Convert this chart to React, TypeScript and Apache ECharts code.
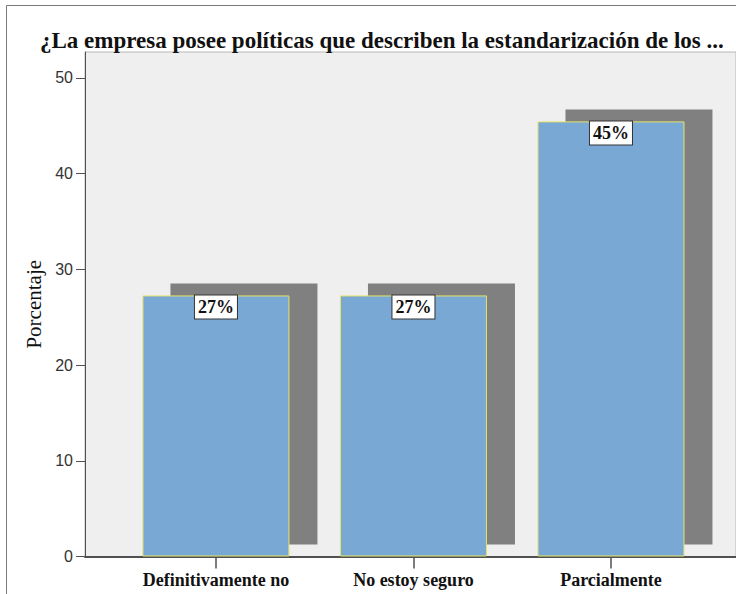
import React, { useEffect, useRef } from "react";
import * as echarts from "echarts";

const titleText = "¿La empresa posee políticas que describen la estandarización de los ...";
const categories = ["Definitivamente no", "No estoy seguro", "Parcialmente"];
const percentages = [27.27, 27.27, 45.45];
const labels = ["27%", "27%", "45%"];
const yTicks = [0, 10, 20, 30, 40, 50];
const yAxisName = "Porcentaje";

export default function App() {
  const ref = useRef<HTMLDivElement>(null);
  useEffect(() => {
    if (!ref.current) return;
    const chart = echarts.init(ref.current, null, { renderer: "svg" });
    const points = percentages.map((v, i) => [i, v]);
    const barW = 147;
    const option: any = {
      animation: false,
      backgroundColor: "#ffffff",
      title: {
        text: titleText,
        left: 35,
        top: 24,
        textStyle: {
          fontFamily: "Liberation Serif",
          fontWeight: "bold",
          fontSize: 23,
          color: "#111",
        },
      },
      graphic: [
        {
          type: "rect",
          shape: { x: 6.5, y: 5.5, width: 800, height: 700 },
          style: { fill: "none", stroke: "#7a7a7a", lineWidth: 1 },
          silent: true,
        },
      ],
      grid: {
        left: 85,
        top: 52,
        right: 0,
        bottom: 594 - 556.5,
        show: true,
        backgroundColor: "#EFEFEF",
        borderColor: "#B8B8B8",
        borderWidth: 1,
      },
      xAxis: {
        type: "value",
        min: -0.663,
        max: 2.633,
        splitLine: { show: false },
        axisLine: { show: true, onZero: false, lineStyle: { color: "#505050", width: 2 } },
        axisTick: {
          show: true,
          customValues: [0, 1, 2],
          length: 12,
          lineStyle: { color: "#505050", width: 1.5 },
        },
        axisLabel: {
          customValues: [0, 1, 2],
          formatter: (v: number) => categories[Math.round(v)] ?? "",
          margin: 14,
          fontFamily: "Liberation Serif",
          fontWeight: "bold",
          fontSize: 18,
          color: "#111",
        },
      },
      yAxis: {
        type: "value",
        min: 0,
        max: 52.7,
        name: yAxisName,
        nameLocation: "middle",
        nameGap: 40,
        nameRotate: 90,
        nameTextStyle: {
          fontFamily: "Liberation Serif",
          fontSize: 21,
          color: "#111",
        },
        splitLine: { show: false },
        axisLine: { show: true, onZero: false, lineStyle: { color: "#505050", width: 1 } },
        axisTick: {
          show: true,
          customValues: yTicks,
          length: 9,
          lineStyle: { color: "#505050" },
        },
        axisLabel: {
          customValues: yTicks,
          margin: 12,
          fontFamily: "Liberation Sans Narrow, Liberation Sans",
          fontSize: 16,
          color: "#333",
        },
      },
      series: [
        {
          type: "custom",
          z: 1,
          data: points,
          renderItem: (params: any, api: any) => {
            const x = api.value(0);
            const v = api.value(1);
            const top = api.coord([x, v]);
            const base = api.coord([x, 0]);
            const dx = 28;
            const dy = -12;
            return {
              type: "rect",
              shape: {
                x: top[0] - barW / 2 + dx,
                y: top[1] + dy,
                width: barW,
                height: base[1] - top[1],
              },
              style: { fill: "#808080" },
            };
          },
        },
        {
          type: "bar",
          z: 2,
          data: points,
          barWidth: barW,
          itemStyle: { color: "#7AA8D5", borderColor: "#E4E46A", borderWidth: 1 },
          label: {
            show: true,
            position: "insideTop",
            distance: 0,
            formatter: (p: any) => labels[p.dataIndex],
            fontFamily: "Liberation Serif",
            fontWeight: "bold",
            fontSize: 18,
            color: "#111",
            backgroundColor: "#ffffff",
            borderColor: "#333",
            borderWidth: 1,
            padding: [3, 3, 2, 3],
          },
        },
      ],
    };
    chart.setOption(option);
    return () => chart.dispose();
  }, []);
  return (
    <div
      ref={ref}
      style={{ position: "fixed", left: 0, top: 0, width: 736, height: 594 }}
    />
  );
}
